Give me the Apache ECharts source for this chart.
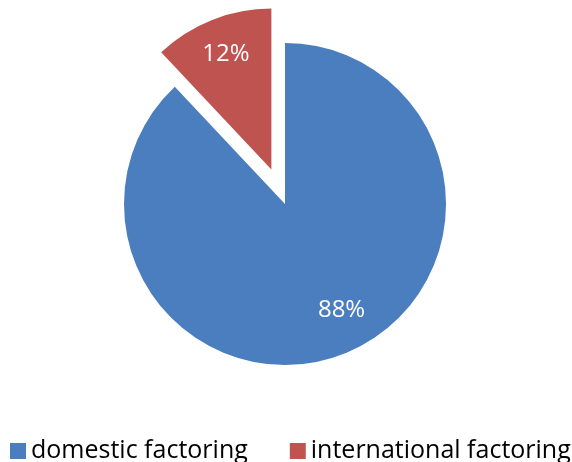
<!DOCTYPE html>
<html><head><meta charset="utf-8">
<script src="https://cdn.jsdelivr.net/npm/echarts@6/dist/echarts.min.js"></script>
<style>html,body{margin:0;padding:0;background:#fff}#c{width:572px;height:462px}</style>
</head><body><div id="c"></div>
<script>
const categories = ['domestic factoring', 'international factoring'];
const values = [88, 12];
const colors = ['#4A7EBF', '#BE5350'];

const chart = echarts.init(document.getElementById('c'), null, {renderer: 'canvas'});
const center = [285, 204];
const radius = 161;
const offset = 37;
const mk = (withLabel) => categories.map((n, i) => ({
  name: n, value: values[i], selected: i === 1,
  itemStyle: {color: withLabel ? 'rgba(0,0,0,0)' : colors[i]},
  label: withLabel && i === 0 ? {offset: [11, -9]} : undefined
}));
chart.setOption({
  animation: false,
  legend: {
    data: categories, left: 10, top: 436, width: 800, padding: 0,
    itemWidth: 16, itemHeight: 16, itemGap: 42,
    icon: 'rect', selectedMode: false,
    textStyle: {fontFamily: 'Open Sans', fontSize: 25, lineHeight: 30, color: '#000'}
  },
  series: [{
    type: 'pie', center: center, radius: [0, radius], startAngle: 90, clockwise: true,
    selectedMode: 'single', selectedOffset: offset, silent: true,
    label: {show: false}, labelLine: {show: false},
    data: mk(false)
  }, {
    type: 'pie', center: center, radius: [radius * 0.5, radius], startAngle: 90, clockwise: true,
    selectedMode: 'single', selectedOffset: offset, silent: true,
    label: {show: true, position: 'inside', formatter: '{c}%', color: '#fff', fontFamily: 'Open Sans', fontSize: 24},
    labelLine: {show: false},
    data: mk(true)
  }]
});
</script></body></html>
